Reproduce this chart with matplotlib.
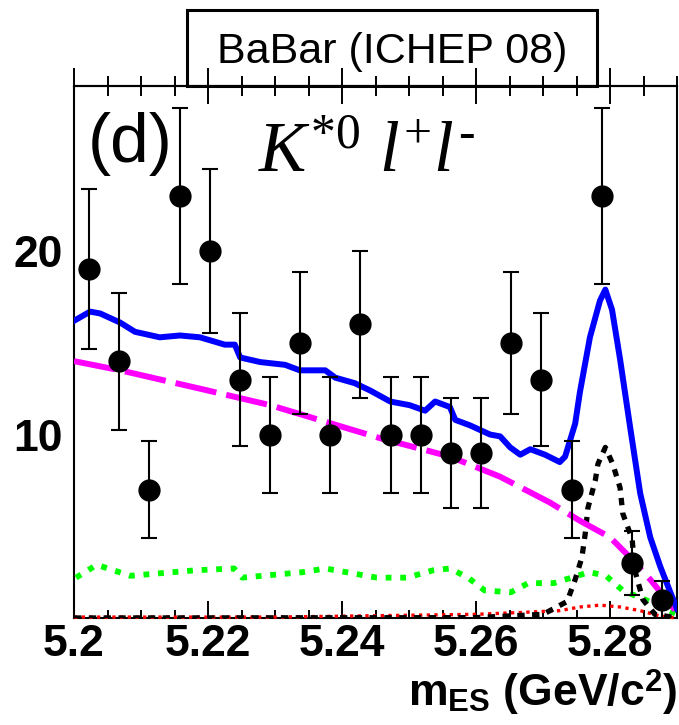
import numpy as np
import matplotlib
matplotlib.use("Agg")
import matplotlib.pyplot as plt
from matplotlib.patches import Rectangle
from matplotlib.ticker import MultipleLocator

plt.rcParams['font.family'] = ['Liberation Sans', 'DejaVu Sans']
plt.rcParams['mathtext.fontset'] = 'custom'
plt.rcParams['mathtext.rm'] = 'Liberation Serif'
plt.rcParams['mathtext.it'] = 'Liberation Serif:italic'
plt.rcParams['mathtext.bf'] = 'Liberation Sans:bold'
plt.rcParams['mathtext.sf'] = 'Liberation Sans'

# data points (20 bins of 4.5 MeV between 5.20 and 5.29)
bin_lo, bin_hi, n_bins = 5.20, 5.29, 20
counts = [19, 14, 7, 23, 20, 13, 10, 15, 10, 16, 10, 10, 9, 9, 15, 13, 7, 23, 3, 1]

# total fit (blue)
tot_x = [5.2000, 5.2024, 5.2039, 5.2069, 5.2091, 5.2128, 5.2158, 5.2188, 5.2225, 5.2240,
         5.2248, 5.2278, 5.2315, 5.2337, 5.2375, 5.2390, 5.2419, 5.2442, 5.2472, 5.2501,
         5.2524, 5.2539, 5.2561, 5.2569, 5.2591, 5.2621, 5.2636, 5.2651, 5.2666, 5.2681,
         5.2703, 5.2725, 5.2733, 5.2748, 5.2755, 5.2770, 5.2785, 5.2793, 5.2803, 5.2815,
         5.2830, 5.2845, 5.2860, 5.2875, 5.2890, 5.2900]
tot_y = [16.2, 16.7, 16.6, 16.1, 15.6, 15.3, 15.4, 15.3, 14.9, 14.9,
         14.2, 13.95, 13.8, 13.5, 13.5, 13.1, 12.8, 12.4, 11.8, 11.6,
         11.3, 11.8, 11.5, 10.8, 10.5, 10.0, 9.9, 9.3, 8.9, 9.2,
         8.9, 8.5, 8.8, 10.6, 12.3, 15.3, 17.3, 17.9, 16.8, 14.1,
         10.4, 6.8, 4.4, 2.8, 1.4, 0.5]

# combinatorial background (magenta)
comb_x = [5.2000, 5.2069, 5.2188, 5.2293, 5.2457, 5.2561, 5.2636, 5.2710, 5.2755, 5.2800,
          5.2830, 5.2860, 5.2882, 5.2900]
comb_y = [14.0, 13.5, 12.5, 11.6, 9.8, 8.8, 7.7, 6.3, 5.3, 4.4,
          3.3, 2.1, 1.1, 0.3]

# signal (black dotted)
sig_x = [5.2000, 5.2600, 5.2700, 5.2736, 5.2748, 5.2758, 5.2763, 5.2767, 5.2778, 5.2782,
         5.2793, 5.2804, 5.2815, 5.2819, 5.2833, 5.2837, 5.2849, 5.2867, 5.2900]
sig_y = [0.0, 0.02, 0.2, 0.9, 2.1, 3.3, 4.6, 6.0, 7.5, 8.4,
         9.3, 8.4, 7.1, 5.7, 4.3, 2.6, 1.0, 0.2, 0.0]

# other background (green dotted)
bkg_x = [5.2003, 5.2034, 5.2084, 5.2181, 5.2239, 5.2251, 5.2342, 5.2375, 5.2452, 5.2497,
         5.2536, 5.2561, 5.2588, 5.2613, 5.2652, 5.2678, 5.2716, 5.2769, 5.2794, 5.2819,
         5.2852, 5.2878, 5.2900]
bkg_y = [2.2, 2.9, 2.3, 2.6, 2.7, 2.2, 2.5, 2.7, 2.2, 2.2,
         2.6, 2.7, 2.2, 1.5, 1.4, 1.9, 1.9, 2.5, 2.3, 1.5,
         1.0, 0.6, 0.2]

# peaking background (red dotted)
pk_x = [5.2000, 5.2300, 5.2600, 5.2666, 5.2725, 5.2755, 5.2785, 5.2815, 5.2845, 5.2875, 5.2900]
pk_y = [0.05, 0.05, 0.2, 0.3, 0.4, 0.6, 0.7, 0.6, 0.4, 0.1, 0.0]

edges = np.linspace(bin_lo, bin_hi, n_bins + 1)
centers = 0.5 * (edges[:-1] + edges[1:])
counts = np.array(counts, dtype=float)
errs = np.sqrt(counts)

fig = plt.figure(figsize=(6.79, 7.25), dpi=100)
ax = fig.add_axes([0.1090, 0.1476, 0.8881, 0.7338])

ax.plot(pk_x, pk_y, color='red', lw=2.4, dashes=(1, 1.3), clip_on=False, zorder=3)
ax.plot(bkg_x, bkg_y, color='#00ff00', lw=4.2, dashes=(1, 1.5), zorder=3)
ax.plot(sig_x, sig_y, color='black', lw=3.8, dashes=(1.4, 1.4), zorder=3)
ax.plot(comb_x, comb_y, color='#ff00ff', lw=4.3, dashes=(7, 1.7), zorder=4)
ax.plot(tot_x, tot_y, color='#0000ff', lw=4.3, zorder=5)
ax.errorbar(centers, counts, yerr=errs, fmt='o', color='black', ms=15,
            elinewidth=1.5, capsize=6, capthick=1.5, zorder=6)

ax.set_xlim(bin_lo, bin_hi)
ax.set_ylim(0, 29)

ax.xaxis.set_major_locator(MultipleLocator(0.02))
ax.xaxis.set_minor_locator(MultipleLocator(0.005))
ax.set_xticks([5.20, 5.22, 5.24, 5.26, 5.28])
ax.set_xticklabels(['5.2', '5.22', '5.24', '5.26', '5.28'])
ax.set_yticks([10, 20])
ax.tick_params(axis='x', which='major', direction='in', length=12, width=1.4,
               labelsize=32, pad=4, top=False)
ax.tick_params(axis='x', which='minor', direction='in', length=6, width=1.4, top=False)
ax.tick_params(axis='y', which='both', length=0, labelsize=32, pad=8)
for lab in ax.get_xticklabels() + ax.get_yticklabels():
    lab.set_fontweight('bold')

top = ax.secondary_xaxis('top')
top.xaxis.set_major_locator(MultipleLocator(0.02))
top.xaxis.set_minor_locator(MultipleLocator(0.005))
top.tick_params(which='major', direction='inout', length=26, width=1.4, labeltop=False)
top.tick_params(which='minor', direction='inout', length=14, width=1.4)
top.spines['top'].set_linewidth(1.5)

for s in ax.spines.values():
    s.set_linewidth(1.5)

ax.set_xlabel(r'$\mathbf{m}_{\mathbf{ES}}$ (GeV/c$^{\mathbf{2}}$)', fontsize=32,
              fontweight='bold', loc='right', labelpad=2)

ax.text(0.023, 0.857, '(d)', transform=ax.transAxes, fontsize=50, va='baseline', ha='left')
ax.text(0.305, 0.838, r'$K^{*0}\ l^{+}l^{\text{-}}$', transform=ax.transAxes, fontsize=51,
        va='baseline', ha='left')

fig.add_artist(Rectangle((0.2754, 0.8814), 0.6038, 0.1048, transform=fig.transFigure,
                         fill=False, edgecolor='black', lw=2.2))
fig.text(0.577, 0.913, 'BaBar (ICHEP 08)', fontsize=31, ha='center', va='baseline')

fig.savefig('out.png', dpi=100)
